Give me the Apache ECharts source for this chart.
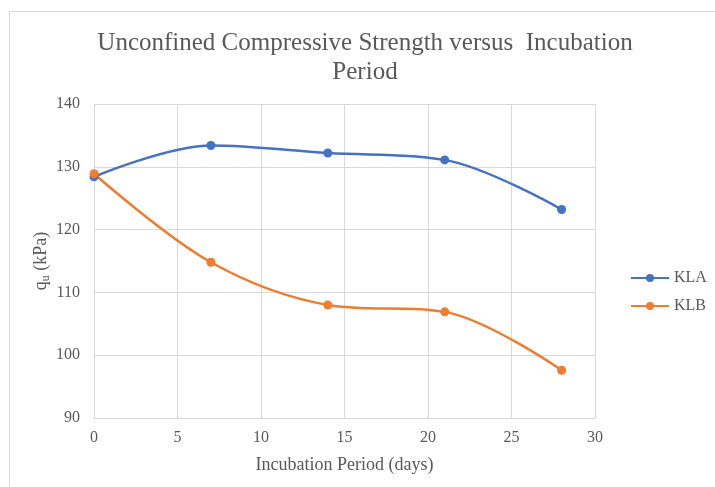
<!DOCTYPE html>
<html>
<head>
<meta charset="utf-8">
<script src="https://cdn.jsdelivr.net/npm/echarts@6/dist/echarts.min.js"></script>
<style>
html,body{margin:0;padding:0;background:#fff;}
#chart{width:715px;height:487px;}
</style>
</head>
<body>
<div id="chart"></div>
<script>
var days = [0, 7, 14, 21, 28];
var klaValues = [128.4, 133.4, 132.2, 131.1, 123.2];
var klbValues = [128.9, 114.8, 108.0, 106.9, 97.6];
var seriesNames = ['KLA', 'KLB'];
var xTicks = { min: 0, max: 30, interval: 5 };
var yTicks = { min: 90, max: 140, interval: 10 };

var font = '"Liberation Serif", "Times New Roman", serif';
var textColor = '#595959';
var gridColor = '#d9d9d9';

function pairs(xs, ys) { return xs.map(function (x, i) { return [x, ys[i]]; }); }

var chart = echarts.init(document.getElementById('chart'), null, { renderer: 'canvas' });
chart.setOption({
  backgroundColor: '#ffffff',
  animation: false,
  graphic: [{
    type: 'rect', left: 7, top: 9,
    shape: { width: 800, height: 600 },
    style: { fill: 'none', stroke: gridColor, lineWidth: 1 }
  }],
  title: {
    text: 'Unconfined Compressive Strength versus  Incubation\nPeriod',
    left: 360, top: 24, textAlign: 'center',
    textStyle: { fontFamily: font, fontSize: 25, fontWeight: 'normal', color: textColor, lineHeight: 29 }
  },
  legend: {
    orient: 'vertical', left: 625, top: 265, itemGap: 12,
    itemWidth: 38, itemHeight: 10,
    data: seriesNames,
    textStyle: { fontFamily: font, fontSize: 16, color: textColor }
  },
  grid: { left: 94, right: 120, top: 104, bottom: 69 },
  xAxis: {
    type: 'value', min: xTicks.min, max: xTicks.max, interval: xTicks.interval,
    name: 'Incubation Period (days)', nameLocation: 'middle', nameGap: 38,
    nameTextStyle: { fontFamily: font, fontSize: 18, color: textColor },
    axisLine: { show: true, lineStyle: { color: gridColor } },
    axisTick: { show: false },
    axisLabel: { fontFamily: font, fontSize: 16, color: textColor, margin: 12 },
    splitLine: { show: true, lineStyle: { color: gridColor } }
  },
  yAxis: {
    type: 'value', min: yTicks.min, max: yTicks.max, interval: yTicks.interval,
    name: '{q|q}{sub|u}{q| (kPa)}', nameLocation: 'middle', nameGap: 42, nameRotate: 90,
    nameMoveOverlap: false,
    nameTextStyle: {
      fontFamily: font, fontSize: 18, color: textColor,
      rich: {
        q: { fontFamily: font, fontSize: 18, color: textColor, lineHeight: 22 },
        sub: { fontFamily: font, fontSize: 12, color: textColor, lineHeight: 22, padding: [9, 0, 0, 0] }
      }
    },
    axisLine: { show: false },
    axisTick: { show: false },
    axisLabel: { fontFamily: font, fontSize: 16, color: textColor, margin: 14 },
    splitLine: { show: true, lineStyle: { color: gridColor } }
  },
  series: [{
    name: seriesNames[0], type: 'line', smooth: 0.35,
    data: pairs(days, klaValues),
    symbol: 'circle', symbolSize: 9,
    itemStyle: { color: '#4472C4' },
    lineStyle: { color: '#4472C4', width: 2.5 }
  }, {
    name: seriesNames[1], type: 'line', smooth: 0.35,
    data: pairs(days, klbValues),
    symbol: 'circle', symbolSize: 9,
    itemStyle: { color: '#ED7D31' },
    lineStyle: { color: '#ED7D31', width: 2.5 }
  }]
});
</script>
</body>
</html>
